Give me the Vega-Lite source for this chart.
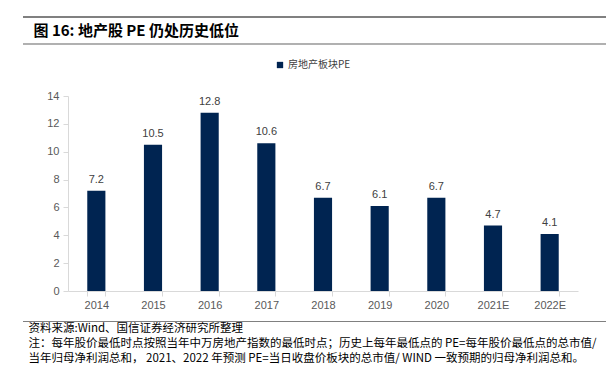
{
  "$schema": "https://vega.github.io/schema/vega-lite/v6.json",
  "autosize": {"type": "none"},
  "padding": {"left": 23, "top": 17, "right": 3, "bottom": 52},
  "width": 583,
  "height": 305,
  "background": "white",
  "config": {
    "view": {"stroke": null},
    "font": "Liberation Sans"
  },
  "data": {
    "values": [
      {"year": "2014", "pe": 7.2, "series": "房地产板块PE"},
      {"year": "2015", "pe": 10.5, "series": "房地产板块PE"},
      {"year": "2016", "pe": 12.8, "series": "房地产板块PE"},
      {"year": "2017", "pe": 10.6, "series": "房地产板块PE"},
      {"year": "2018", "pe": 6.7, "series": "房地产板块PE"},
      {"year": "2019", "pe": 6.1, "series": "房地产板块PE"},
      {"year": "2020", "pe": 6.7, "series": "房地产板块PE"},
      {"year": "2021E", "pe": 4.7, "series": "房地产板块PE"},
      {"year": "2022E", "pe": 4.1, "series": "房地产板块PE"}
    ]
  },
  "layer": [
    {
      "mark": {"type": "bar"},
      "encoding": {
        "x": {
          "field": "year",
          "type": "nominal",
          "sort": null,
          "scale": {"range": [45, 555], "paddingInner": 0.68, "paddingOuter": 0.34},
          "axis": {
            "offset": -31,
            "labelAngle": 0,
            "labelFontSize": 11,
            "labelColor": "#595959",
            "labelPadding": 3,
            "domainColor": "#d9d9d9",
            "tickColor": "#d9d9d9",
            "tickSize": 5,
            "tickBand": "extent",
            "grid": false,
            "title": [
              "资料来源:Wind、国信证券经济研究所整理",
              "注：每年股价最低时点按照当年中万房地产指数的最低时点；历史上每年最低点的  PE=每年股价最低点的总市值/",
              "当年归母净利润总和， 2021、2022 年预测 PE=当日收盘价板块的总市值/ WIND 一致预期的归母净利润总和。"
            ],
            "titleFont": "Noto Sans CJK SC",
            "titleFontSize": 11.5,
            "titleFontWeight": "normal",
            "titleColor": "#000000",
            "titleAnchor": "start",
            "titleAlign": "left",
            "titleBaseline": "top",
            "titleX": 5,
            "titleY": 31,
            "titleLineHeight": 15
          }
        },
        "y": {
          "field": "pe",
          "type": "quantitative",
          "scale": {"domain": [0, 14], "range": [274, 79], "nice": false, "zero": true},
          "axis": {
            "offset": -45,
            "values": [0, 2, 4, 6, 8, 10, 12, 14],
            "labelFontSize": 11,
            "labelColor": "#595959",
            "labelPadding": 4,
            "domainColor": "#d9d9d9",
            "tickColor": "#d9d9d9",
            "tickSize": 5,
            "grid": false,
            "title": "图 16:  地产股 PE 仍处历史低位",
            "titleAngle": 0,
            "titleAlign": "left",
            "titleBaseline": "middle",
            "titleX": -35,
            "titleY": 13,
            "titleFont": "Noto Sans CJK SC",
            "titleFontSize": 15,
            "titleFontWeight": "bold",
            "titleColor": "#000000"
          }
        },
        "color": {
          "field": "series",
          "type": "nominal",
          "scale": {"range": ["#002451"]},
          "legend": {
            "title": null,
            "orient": "none",
            "legendX": 252,
            "legendY": 43,
            "symbolType": "square",
            "symbolSize": 40,
            "labelFont": "Noto Sans CJK SC",
            "labelFontSize": 10,
            "labelColor": "#404040",
            "labelOffset": 3
          }
        }
      }
    },
    {
      "mark": {"type": "text", "baseline": "bottom", "dy": -6, "fontSize": 11, "color": "#404040"},
      "encoding": {
        "x": {"field": "year", "type": "nominal", "sort": null},
        "y": {"field": "pe", "type": "quantitative"},
        "text": {"field": "pe", "type": "quantitative", "format": ".1f"}
      }
    },
    {
      "mark": {"type": "rule", "color": "#808080", "strokeWidth": 1.5},
      "encoding": {"y": {"datum": 19.67}}
    },
    {
      "mark": {"type": "rule", "color": "#b0b0b0", "strokeWidth": 1},
      "encoding": {"y": {"datum": 17.74}}
    },
    {
      "mark": {"type": "rule", "color": "#808080", "strokeWidth": 1},
      "encoding": {"y": {"datum": -2.19}}
    }
  ]
}
